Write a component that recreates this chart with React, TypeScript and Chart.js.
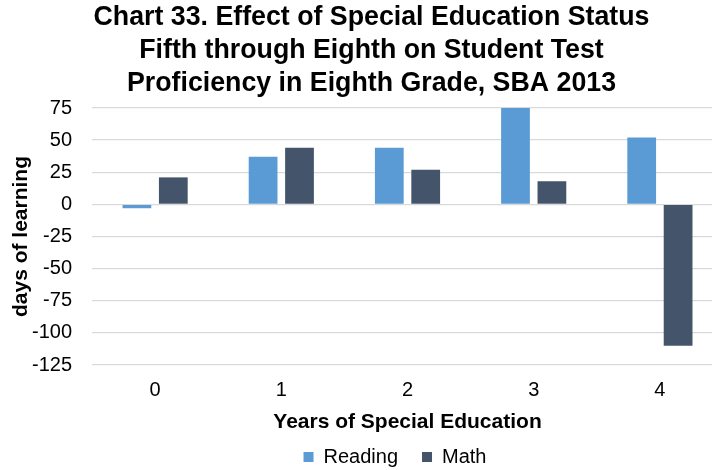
import React, { useEffect, useRef } from "react";
import { Chart, registerables } from "chart.js";

Chart.register(...registerables);

const categories = ["0", "1", "2", "3", "4"];
const readingValues = [-3, 37, 44, 75, 52];
const mathValues = [21, 44, 27, 18, -110];
const yTicks = [75, 50, 25, 0, -25, -50, -75, -100, -125];
const titleLines = [
  "Chart 33. Effect of Special Education Status",
  "Fifth through Eighth on Student Test",
  "Proficiency in Eighth Grade, SBA 2013",
];
const xAxisTitle = "Years of Special Education";
const yAxisTitle = "days of learning";
const seriesNames = ["Reading", "Math"];

const FONT = '"Liberation Sans", Arial, sans-serif';

const blockShift = {
  id: "blockShift",
  afterLayout(chart: any) {
    const tb = chart.titleBlock;
    if (tb) {
      tb.left += 10;
      tb.right += 10;
    }
    const lg = chart.legend;
    if (lg) {
      lg.left += 33.5;
      lg.right += 33.5;
      lg.top -= 14;
      lg.bottom -= 14;
    }
  },
};

export default function App() {
  const ref = useRef<HTMLCanvasElement | null>(null);

  useEffect(() => {
    if (!ref.current) return;
    const chart = new Chart(ref.current, {
      type: "bar",
      data: {
        labels: categories,
        datasets: [
          {
            label: seriesNames[0],
            data: readingValues,
            backgroundColor: "#5B9BD5",
            categoryPercentage: 0.577,
            barPercentage: 0.79,
          },
          {
            label: seriesNames[1],
            data: mathValues,
            backgroundColor: "#44546A",
            categoryPercentage: 0.577,
            barPercentage: 0.79,
          },
        ],
      },
      options: {
        responsive: false,
        animation: false,
        layout: { padding: { left: 0, right: 20, top: 0, bottom: 0 } },
        plugins: {
          title: {
            display: true,
            text: titleLines,
            color: "#000",
            font: { family: FONT, size: 26.75, weight: "bold", lineHeight: "33px" },
            padding: { top: 1.5, bottom: 7.5 },
          },
          legend: {
            position: "bottom",
            labels: {
              color: "#000",
              font: { family: FONT, size: 20 },
              boxWidth: 10,
              boxHeight: 10,
              padding: 24,
            },
          },
          tooltip: { enabled: false },
        },
        scales: {
          x: {
            grid: { display: false, drawTicks: false },
            border: { display: false },
            ticks: {
              color: "#000",
              font: { family: FONT, size: 20 },
              padding: 13,
            },
            title: {
              display: true,
              text: xAxisTitle,
              color: "#000",
              font: { family: FONT, size: 21, weight: "bold" },
              padding: { top: 0, bottom: 2 },
            },
            afterFit: (scale: any) => {
              scale.height = 72;
            },
          },
          y: {
            min: Math.min(...yTicks),
            max: Math.max(...yTicks),
            afterBuildTicks: (scale: any) => {
              scale.ticks = yTicks.map((v) => ({ value: v }));
            },
            grid: { color: "#D9D9D9", lineWidth: 1.3, drawTicks: false },
            border: { display: false },
            ticks: {
              color: "#000",
              font: { family: FONT, size: 20 },
              padding: 20,
              callback: (v: any) => String(v),
            },
            title: {
              display: true,
              text: yAxisTitle,
              color: "#000",
              font: { family: FONT, size: 21, weight: "bold" },
              padding: { top: 8.4, bottom: 0 },
            },
            afterFit: (scale: any) => {
              scale.width = 92;
            },
          },
        },
      },
      plugins: [blockShift],
    });
    return () => chart.destroy();
  }, []);

  return (
    <div
      style={{
        position: "absolute",
        left: 0,
        top: 0,
        width: 712,
        height: 470,
        overflow: "hidden",
        background: "#fff",
      }}
    >
      <canvas ref={ref} width={743} height={491} style={{ display: "block" }} />
    </div>
  );
}
